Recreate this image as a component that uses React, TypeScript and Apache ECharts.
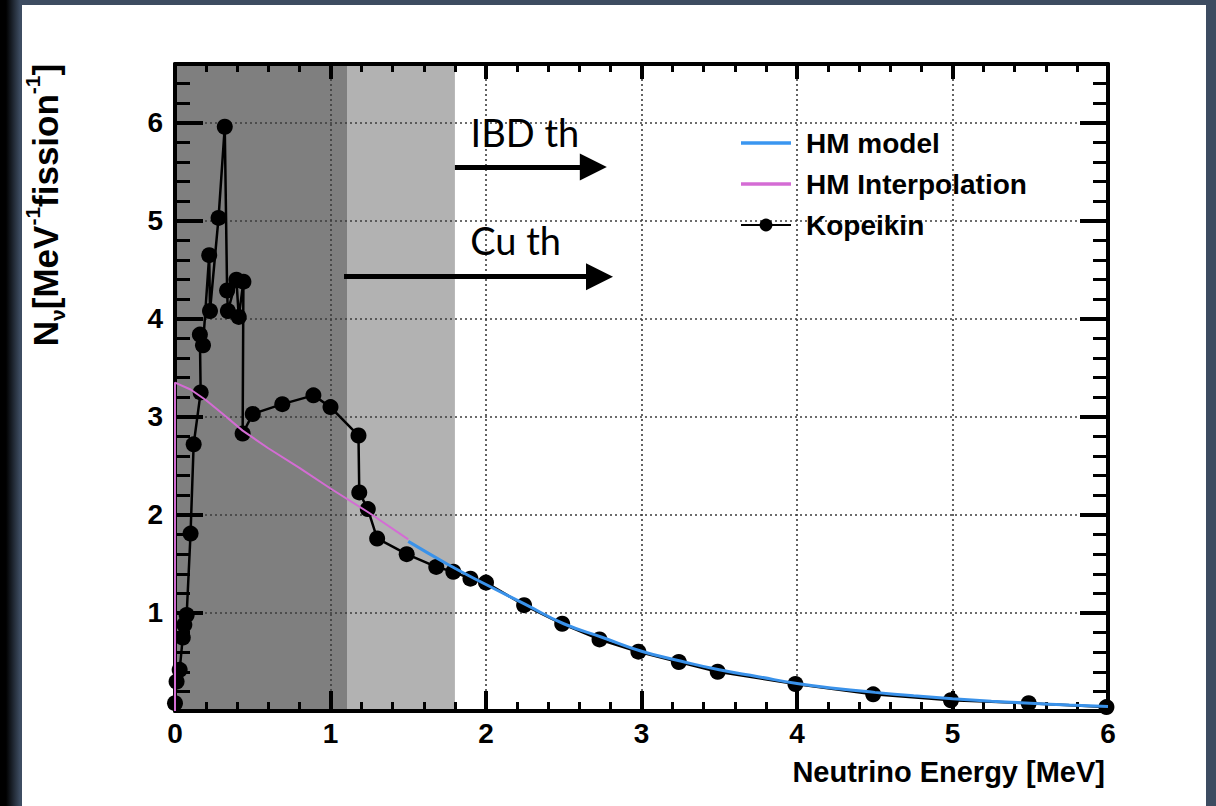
import React, { useEffect, useRef } from "react";
import * as echarts from "echarts";

// ---- Data ----
const kopeikin: [number, number][] = [
  [0, 0.08], [0.01, 0.3], [0.03, 0.42], [0.05, 0.75], [0.06, 0.88], [0.075, 0.98],
  [0.1, 1.81], [0.12, 2.72], [0.165, 3.25], [0.16, 3.84], [0.18, 3.73], [0.22, 4.65],
  [0.225, 4.08], [0.28, 5.03], [0.32, 5.96], [0.335, 4.29], [0.34, 4.08], [0.395, 4.4],
  [0.41, 4.02], [0.44, 4.38], [0.435, 2.83], [0.5, 3.03], [0.69, 3.13], [0.89, 3.22],
  [1.0, 3.1], [1.18, 2.81], [1.185, 2.23], [1.24, 2.06], [1.3, 1.76], [1.49, 1.6],
  [1.68, 1.47], [1.79, 1.42], [1.9, 1.35], [2.0, 1.31], [2.245, 1.08], [2.49, 0.89],
  [2.73, 0.73], [2.98, 0.605], [3.24, 0.5], [3.49, 0.4], [3.99, 0.275], [4.49, 0.17],
  [4.99, 0.11], [5.49, 0.08], [5.99, 0.04],
];

const hmModel: [number, number][] = [
  [1.5, 1.73], [1.75, 1.5], [2.0, 1.29], [2.25, 1.09], [2.5, 0.89], [2.75, 0.75],
  [3.0, 0.61], [3.25, 0.51], [3.5, 0.42], [3.75, 0.35], [4.0, 0.28], [4.25, 0.23],
  [4.5, 0.19], [4.75, 0.155], [5.0, 0.125], [5.25, 0.1], [5.5, 0.08], [5.75, 0.06],
  [6.0, 0.045],
];

const hmInterp: [number, number][] = [
  [0, 0], [0, 3.35], [0.1, 3.28], [0.2, 3.17], [0.3, 3.04], [0.435, 2.86], [0.6, 2.68],
  [0.8, 2.48], [1.0, 2.27], [1.25, 2.02], [1.5, 1.75],
];

const thresholds = { cu: 1.11, ibd: 1.8 };
const arrows = [
  { name: "IBD th", from: [1.8, 5.55], to: [2.69, 5.55], label: [2.25, 5.91] },
  { name: "Cu th", from: [1.087, 4.43], to: [2.73, 4.43], label: [2.19, 4.8] },
];
const legendNames = ["HM model", "HM Interpolation", "Kopeikin"];
const xRange = [0, 6];
const yRange = [0, 6.6];

const FONT = "Liberation Sans";
const LINE_ICON = "path://M0,0 L54,0 L54,4 L0,4 Z";

export default function App() {
  const ref = useRef<HTMLDivElement>(null);
  useEffect(() => {
    document.body.style.margin = "0";
    const chart = echarts.init(ref.current!, null, { renderer: "svg" });
    const tickLabel = {
      fontFamily: FONT,
      fontWeight: "bold" as const,
      fontSize: 28,
      color: "#000",
    };
    const split = {
      show: true,
      lineStyle: { color: "#3c3c3c", width: 1.6, type: [2, 3] as any },
    };
    const axisLine = { show: true, onZero: false, lineStyle: { color: "#000", width: 4 } };
    const mkX = (pos: "bottom" | "top", major: number, minor: number, labels: boolean) => ({
      type: "value" as const,
      position: pos,
      min: xRange[0],
      max: xRange[1],
      interval: 1,
      axisLine,
      axisTick: { show: true, inside: true, length: major, lineStyle: { color: "#000", width: 4 } },
      minorTick: { show: true, splitNumber: 5, length: minor, lineStyle: { color: "#000", width: 3 } },
      axisLabel: labels
        ? { ...tickLabel, margin: 8, formatter: (v: number) => (Number.isInteger(v) ? String(v) : "") }
        : { show: false },
      splitLine: labels ? split : { show: false },
    });
    const mkY = (pos: "left" | "right", labels: boolean) => ({
      type: "value" as const,
      position: pos,
      min: yRange[0],
      max: yRange[1],
      interval: 1,
      axisLine,
      axisTick: { show: true, inside: true, length: 28, lineStyle: { color: "#000", width: 4 } },
      minorTick: { show: true, splitNumber: 5, length: 15, lineStyle: { color: "#000", width: 3 } },
      axisLabel: labels
        ? {
            ...tickLabel,
            margin: 12,
            showMaxLabel: false,
            formatter: (v: number) => (v === 0 || !Number.isInteger(v) ? "" : String(v)),
          }
        : { show: false },
      splitLine: labels ? split : { show: false },
    });

    chart.setOption({
      animation: false,
      backgroundColor: "transparent",
      grid: { left: 175, right: 108, top: 64, bottom: 95, containLabel: false },
      xAxis: [mkX("bottom", 20, 9, true), mkX("top", 15, 8, false)],
      yAxis: [mkY("left", true), mkY("right", false)],
      legend: {
        data: [
          { name: legendNames[0], icon: LINE_ICON, itemStyle: { color: "#3a96f0" } },
          { name: legendNames[1], icon: LINE_ICON, itemStyle: { color: "#d46cd4" } },
          { name: legendNames[2] },
        ],
        orient: "vertical",
        left: 740,
        top: 129,
        padding: 0,
        itemWidth: 50,
        itemHeight: 16,
        itemGap: 13,
        selectedMode: false,
        textStyle: {
          fontFamily: FONT,
          fontWeight: "bold",
          fontSize: 28,
          color: "#000",
          lineHeight: 28,
          padding: [0, 0, 0, 10],
        },
      },
      graphic: [
        {
          type: "text",
          x: 45,
          y: 205,
          rotation: Math.PI / 2,
          style: {
            text: "{n|N}{sub|ν}{n|[MeV}{sup|-1}{n|fission}{sup|-1}{n|]}",
            align: "center",
            verticalAlign: "middle",
            fill: "#000",
            rich: {
              n: { fontFamily: FONT, fontWeight: "bold", fontSize: 35, lineHeight: 46, verticalAlign: "middle" },
              sub: { fontFamily: FONT, fontWeight: "bold", fontSize: 21, lineHeight: 21, verticalAlign: "bottom" },
              sup: { fontFamily: FONT, fontWeight: "bold", fontSize: 21, lineHeight: 21, verticalAlign: "top" },
            },
          },
        },
        {
          type: "text",
          x: 1105,
          y: 772,
          style: {
            text: "Neutrino Energy [MeV]",
            align: "right",
            verticalAlign: "middle",
            fontFamily: FONT,
            fontWeight: "bold",
            fontSize: 29,
            fill: "#000",
          },
        },
      ],
      series: [
        {
          name: "Kopeikin",
          type: "line",
          data: kopeikin,
          symbol: "circle",
          symbolSize: 16,
          showSymbol: true,
          color: "#000",
          lineStyle: { color: "#000", width: 2.5 },
          itemStyle: { color: "#000" },
          silent: true,
          z: 3,
          markArea: {
            silent: true,
            z: -1,
            label: { show: false },
            data: [
              [
                { xAxis: 0, itemStyle: { color: "#7f7f7f" } },
                { xAxis: thresholds.cu },
              ],
              [
                { xAxis: thresholds.cu, itemStyle: { color: "#b2b2b2" } },
                { xAxis: thresholds.ibd },
              ],
            ],
          },
          markLine: {
            silent: true,
            symbol: ["none", "triangle"],
            symbolSize: 27,
            lineStyle: { color: "#000", width: 5, type: "solid" },
            label: { show: false },
            data: arrows.map((a) => [
              { coord: a.from, symbol: "none" },
              { coord: a.to },
            ]),
          },
          markPoint: {
            silent: true,
            symbol: "circle",
            symbolSize: 1,
            itemStyle: { color: "rgba(0,0,0,0)" },
            label: {
              show: true,
              position: "inside",
              color: "#000",
              fontFamily: "Lato",
              fontSize: 38,
              formatter: (p: any) => p.name,
            },
            data: arrows.map((a) => ({ name: a.name, coord: a.label })),
          },
        },
        {
          name: "HM Interpolation",
          type: "line",
          data: hmInterp,
          showSymbol: false,
          symbol: "none",
          color: "#d46cd4",
          lineStyle: { color: "#d46cd4", width: 2 },
          silent: true,
          z: 4,
        },
        {
          name: "HM model",
          type: "line",
          data: hmModel,
          showSymbol: false,
          symbol: "none",
          smooth: true,
          color: "#3a92ea",
          lineStyle: { color: "#3a92ea", width: 3 },
          silent: true,
          z: 5,
        },
      ],
    });
    return () => chart.dispose();
  }, []);

  return (
    <div
      style={{
        position: "relative",
        width: 1216,
        height: 806,
        background: "linear-gradient(to right, #000 0px, #000 6px, #3d4c61 20px, #3d4c61 100%)",
        overflow: "hidden",
      }}
    >
      <div
        style={{ position: "absolute", left: 22, top: 5, width: 1184, height: 801, background: "#fff" }}
      />
      <div ref={ref} style={{ position: "absolute", left: 0, top: 0, width: 1216, height: 806 }} />
    </div>
  );
}
